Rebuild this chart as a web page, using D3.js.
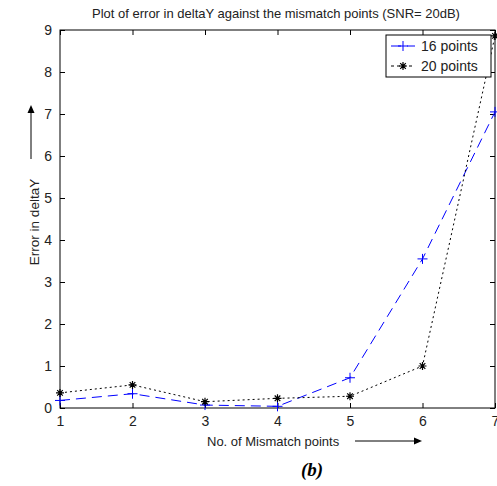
<!DOCTYPE html>
<html><head><meta charset="utf-8">
<script src="https://cdn.jsdelivr.net/npm/d3@7"></script>
<style>body{margin:0;background:#fff}svg{display:block}</style>
</head><body>
<svg id="chart" width="497" height="486"></svg>
<script>
const mismatchPoints = [1, 2, 3, 4, 5, 6, 7];
const series16 = [0.18, 0.34, 0.07, 0.04, 0.72, 3.55, 7.05];
const series20 = [0.36, 0.55, 0.15, 0.23, 0.28, 1.0, 8.86];
const xTicks = [1, 2, 3, 4, 5, 6, 7];
const yTicks = [0, 1, 2, 3, 4, 5, 6, 7, 8, 9];
const seriesNames = ["16 points", "20 points"];

const svg = d3.select("#chart");
const font = "'Liberation Sans', Arial, sans-serif";
const L = 60, R = 495, T = 30, B = 408;
const x = d3.scaleLinear().domain([1, 7]).range([L, R]);
const y = d3.scaleLinear().domain([0, 9]).range([B, T]);

// frame
svg.append("rect").attr("x", L).attr("y", T).attr("width", R - L).attr("height", B - T)
  .attr("fill", "none").attr("stroke", "#000").attr("stroke-width", 1);

const tl = 5;
const axB = svg.append("g").attr("transform", `translate(0,${B})`)
  .call(d3.axisBottom(x).tickValues(xTicks).tickSizeInner(-tl).tickSizeOuter(0).tickPadding(8).tickFormat(d3.format("d")));
const axT = svg.append("g").attr("transform", `translate(0,${T})`)
  .call(d3.axisTop(x).tickValues(xTicks).tickSizeInner(-tl).tickSizeOuter(0).tickFormat(""));
const axL = svg.append("g").attr("transform", `translate(${L},0)`)
  .call(d3.axisLeft(y).tickValues(yTicks).tickSizeInner(-tl).tickSizeOuter(0).tickPadding(8).tickFormat(d3.format("d")));
const axR = svg.append("g").attr("transform", `translate(${R},0)`)
  .call(d3.axisRight(y).tickValues(yTicks).tickSizeInner(-tl).tickSizeOuter(0).tickFormat(""));
[axB, axT, axL, axR].forEach(a => {
  a.select(".domain").remove();
  a.selectAll("line").attr("stroke", "#000");
  a.selectAll("text").attr("font-family", font).attr("font-size", 14).attr("fill", "#222");
});
axB.selectAll("text").attr("dy", "0.71em");

// lines
const line = (vals) => d3.line().x((d, i) => x(mismatchPoints[i])).y(d => y(d))(vals);
svg.append("path").attr("d", line(series16)).attr("fill", "none")
  .attr("stroke", "#0000ff").attr("stroke-width", 1).attr("stroke-dasharray", "10,6");
svg.append("path").attr("d", line(series20)).attr("fill", "none")
  .attr("stroke", "#000").attr("stroke-width", 1).attr("stroke-dasharray", "2,3");

const plusPath = (cx, cy, s) => `M${cx - s},${cy}H${cx + s}M${cx},${cy - s}V${cy + s}`;
const starPath = (cx, cy, s) => {
  const d = s * 0.7;
  return plusPath(cx, cy, s) + `M${cx - d},${cy - d}L${cx + d},${cy + d}M${cx - d},${cy + d}L${cx + d},${cy - d}`;
};
svg.append("g").selectAll("path").data(series16).join("path")
  .attr("d", (d, i) => plusPath(x(mismatchPoints[i]), y(d), 5))
  .attr("stroke", "#0000ff").attr("stroke-width", 1);
svg.append("g").selectAll("path").data(series20).join("path")
  .attr("d", (d, i) => starPath(x(mismatchPoints[i]), y(d), 4))
  .attr("stroke", "#000").attr("stroke-width", 1.2);

// legend
const lg = svg.append("g");
lg.append("rect").attr("x", 386).attr("y", 35).attr("width", 105).attr("height", 42)
  .attr("fill", "#fff").attr("stroke", "#000").attr("stroke-width", 1);
const rows = [46, 66];
lg.append("line").attr("x1", 391).attr("x2", 415).attr("y1", rows[0]).attr("y2", rows[0])
  .attr("stroke", "#0000ff").attr("stroke-dasharray", "10,6");
lg.append("path").attr("d", plusPath(403, rows[0], 5)).attr("stroke", "#0000ff");
lg.append("line").attr("x1", 391).attr("x2", 415).attr("y1", rows[1]).attr("y2", rows[1])
  .attr("stroke", "#000").attr("stroke-dasharray", "3,3");
lg.append("path").attr("d", starPath(403, rows[1], 4)).attr("stroke", "#000").attr("stroke-width", 1.2);
seriesNames.forEach((n, i) => {
  lg.append("text").attr("x", 421).attr("y", rows[i]).attr("dy", "0.35em")
    .attr("font-family", font).attr("font-size", 14).attr("fill", "#222").text(n);
});

// title
svg.append("text").attr("x", 276).attr("y", 13).attr("dy", "0.35em").attr("text-anchor", "middle")
  .attr("font-family", font).attr("font-size", 13).attr("fill", "#222")
  .text("Plot of error in deltaY against the mismatch points (SNR= 20dB)");

// x label + arrow
svg.append("text").attr("x", 207).attr("y", 441).attr("dy", "0.35em")
  .attr("font-family", font).attr("font-size", 13).attr("fill", "#222").text("No. of Mismatch points");
svg.append("line").attr("x1", 355).attr("x2", 416).attr("y1", 441).attr("y2", 441).attr("stroke", "#000");
svg.append("path").attr("d", "M422,441L414,437.5L414,444.5Z").attr("fill", "#000");

// y label + arrow
svg.append("text").attr("transform", "translate(34,222) rotate(-90)").attr("dy", "0.35em")
  .attr("text-anchor", "middle").attr("font-family", font).attr("font-size", 13.5).attr("fill", "#222")
  .text("Error in deltaY");
svg.append("line").attr("x1", 31).attr("x2", 31).attr("y1", 159).attr("y2", 112).attr("stroke", "#000");
svg.append("path").attr("d", "M31,105L27.5,113L34.5,113Z").attr("fill", "#000");

// caption
svg.append("text").attr("x", 312).attr("y", 476).attr("text-anchor", "middle")
  .attr("font-family", "'Liberation Serif', 'Times New Roman', serif").attr("font-size", 19)
  .attr("font-weight", "bold").attr("font-style", "italic").attr("fill", "#000").text("(b)");
</script>
</body></html>
